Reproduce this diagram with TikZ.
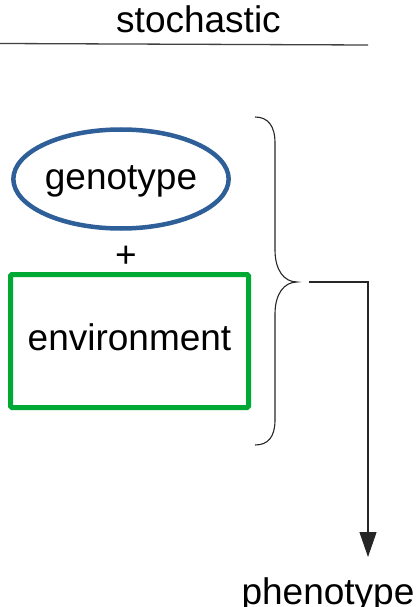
\documentclass[tikz,border=0pt]{standalone}
\usepackage{fontspec}
\setmainfont{Liberation Sans}
\usetikzlibrary{shapes.geometric,arrows.meta}
\definecolor{genoblue}{RGB}{46,95,152}
\definecolor{envgreen}{RGB}{0,169,51}
\tikzset{
  lbl/.style={font=\fontsize{37}{44}\selectfont, inner sep=0pt},
  thinline/.style={draw=black!85, line width=1.1pt},
}
\begin{document}
\begin{tikzpicture}[x=1pt,y=-1pt]
\useasboundingbox (0,0) rectangle (419,607);
% title and rule
\node[lbl, anchor=base] (stoch) at (198.5,33) {stochastic};
\coordinate (ruleL) at (0,43.5);
\coordinate (ruleR) at (368,45);
\draw[thinline, draw=black!75, line width=1.3pt] (ruleL) -- (ruleR);
% genotype ellipse
\node[ellipse, draw=genoblue, line width=4.5pt, minimum width=210pt, minimum height=99pt, inner sep=0pt, lbl, text height=27pt, text depth=7pt] (geno) at (121,179) {genotype};
% plus
\node[lbl, anchor=base] (plus) at (126,267) {+};
% environment box
\node[rectangle, draw=envgreen, line width=5pt, rounded corners=1.5pt, minimum width=238pt, minimum height=133pt, inner sep=0pt, lbl, text height=22pt, text depth=4pt] (env) at (129.5,341) {environment};
% brace
\coordinate (bTop) at (255,117);
\coordinate (bTip) at (297,282);
\coordinate (bBot) at (255,445);
\draw[thinline] (bTop) .. controls (268,117) and (275,126) .. (275,143)
  -- (275,250) .. controls (275,270) and (284,282) .. (bTip)
  .. controls (284,282) and (275,294) .. (275,314)
  -- (275,420) .. controls (275,437) and (268,445) .. (bBot);
% connector to phenotype
\coordinate (jStart) at (309,282);
\coordinate (jCorner) at (368,282);
\coordinate (aEnd) at (368,557);
\draw[thinline, -{Triangle[width=17pt,length=25pt]}] (jStart) -- (jCorner) -- (aEnd);
\node[lbl, anchor=base] (pheno) at (328,604) {phenotype};
\end{tikzpicture}
\end{document}
